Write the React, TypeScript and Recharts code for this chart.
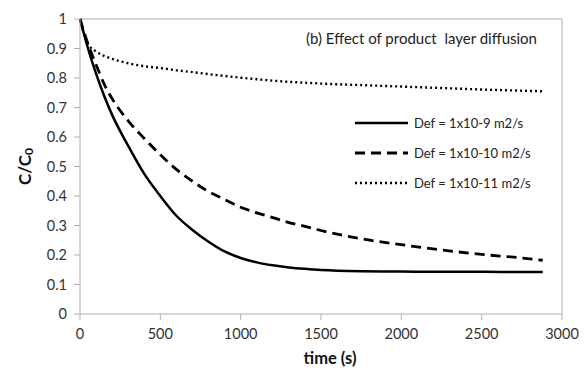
import {
  LineChart,
  Line,
  XAxis,
  YAxis,
  ReferenceLine,
  Label,
} from "recharts";

const times = [
  0, 50, 100, 150, 200, 300, 400, 500, 600, 700, 800, 900, 1000, 1100, 1200,
  1300, 1400, 1500, 1750, 2000, 2250, 2500, 2750, 2880,
];
const def9 = [
  1, 0.9, 0.815, 0.74, 0.675, 0.57, 0.475, 0.4, 0.333, 0.285, 0.245, 0.212,
  0.19, 0.175, 0.165, 0.158, 0.153, 0.149, 0.145, 0.144, 0.143, 0.143, 0.142,
  0.142,
];
const def10 = [
  1, 0.915, 0.845, 0.78, 0.73, 0.655, 0.595, 0.54, 0.49, 0.45, 0.415, 0.388,
  0.362, 0.343, 0.327, 0.31, 0.297, 0.283, 0.255, 0.235, 0.217, 0.202, 0.19,
  0.182,
];
const def11 = [
  1, 0.915, 0.89, 0.875, 0.865, 0.85, 0.84, 0.834, 0.826, 0.82, 0.813, 0.807,
  0.801, 0.796, 0.791, 0.787, 0.784, 0.781, 0.776, 0.771, 0.766, 0.761, 0.757,
  0.755,
];
const xTicks = [0, 500, 1000, 1500, 2000, 2500, 3000];
const yTicks = [0, 0.1, 0.2, 0.3, 0.4, 0.5, 0.6, 0.7, 0.8, 0.9, 1];

const data = times.map((t, i) => ({
  t,
  a: def9[i],
  b: def10[i],
  c: def11[i],
}));

const FONT = "Lato, 'Open Sans', sans-serif";
const AXIS = "#b0b0b0";

const legendItems = [
  { label: "Def = 1x10-9 m2/s", dash: undefined, width: 2.5 },
  { label: "Def = 1x10-10 m2/s", dash: "10 6", width: 2.8 },
  { label: "Def = 1x10-11 m2/s", dash: "2 3", width: 2.4 },
];

function LegendBox() {
  return (
    <div
      style={{
        position: "absolute",
        left: 353,
        top: 108,
        fontFamily: FONT,
        fontSize: 13,
        color: "#222",
      }}
    >
      {legendItems.map((it) => (
        <div
          key={it.label}
          style={{ display: "flex", alignItems: "center", height: 30, whiteSpace: "nowrap" }}
        >
          <svg width={61} height={10}>
            <line
              x1={2}
              x2={55}
              y1={5}
              y2={5}
              stroke="#000"
              strokeWidth={it.width}
              strokeDasharray={it.dash}
            />
          </svg>
          <span>{it.label}</span>
        </div>
      ))}
    </div>
  );
}

function YLabel(props: any) {
  const vb = props.viewBox || {};
  const cx = 24;
  const cy = vb.y + vb.height / 2;
  return (
    <text
      x={cx}
      y={cy}
      transform={`rotate(-90 ${cx} ${cy})`}
      textAnchor="middle"
      dominantBaseline="central"
      fontFamily={FONT}
      fontWeight="bold"
      fontSize={17}
      fill="#111"
    >
      C/C
      <tspan fontSize={12} dy={4}>
        0
      </tspan>
    </text>
  );
}

export default function App() {
  return (
    <div style={{ position: "absolute", left: 0, top: 0, width: 584, height: 370, background: "#fff" }}>
      <LineChart
        width={584}
        height={370}
        data={data}
        margin={{ top: 19, right: 22, bottom: 0, left: 40 }}
      >
        <XAxis
          dataKey="t"
          type="number"
          domain={[0, 3000]}
          ticks={xTicks}
          interval={0}
          stroke={AXIS}
          tickSize={6}
          tickMargin={9}
          tick={{ fill: "#333", fontFamily: FONT, fontSize: 14.5 }}
          height={56}
        >
          <Label
            value="time (s)"
            position="insideBottom"
            offset={6}
            dx={9}
            style={{ fontFamily: FONT, fontWeight: "bold", fontSize: 16.5, fill: "#111" }}
          />
        </XAxis>
        <YAxis
          type="number"
          domain={[0, 1]}
          ticks={yTicks}
          interval={0}
          stroke={AXIS}
          width={40}
          tickSize={6}
          tickMargin={7}
          tick={{ fill: "#333", fontFamily: FONT, fontSize: 14.5 }}
          label={<YLabel />}
        />
        <ReferenceLine y={1} stroke={AXIS} />
        <ReferenceLine x={3000} stroke={AXIS} />
        <Line
          dataKey="a"
          type="monotone"
          stroke="#000"
          strokeWidth={2.5}
          dot={false}
          isAnimationActive={false}
        />
        <Line
          dataKey="b"
          type="monotone"
          stroke="#000"
          strokeWidth={2.8}
          strokeDasharray="10 6"
          dot={false}
          isAnimationActive={false}
        />
        <Line
          dataKey="c"
          type="monotone"
          stroke="#000"
          strokeWidth={2.4}
          strokeDasharray="2 3"
          dot={false}
          isAnimationActive={false}
        />
      </LineChart>
      <LegendBox />
      <div
        style={{
          position: "absolute",
          left: 306,
          top: 29,
          fontFamily: FONT,
          fontSize: 15,
          color: "#222",
          whiteSpace: "nowrap",
        }}
      >
        (b) Effect of product&nbsp; layer diffusion
      </div>
    </div>
  );
}
